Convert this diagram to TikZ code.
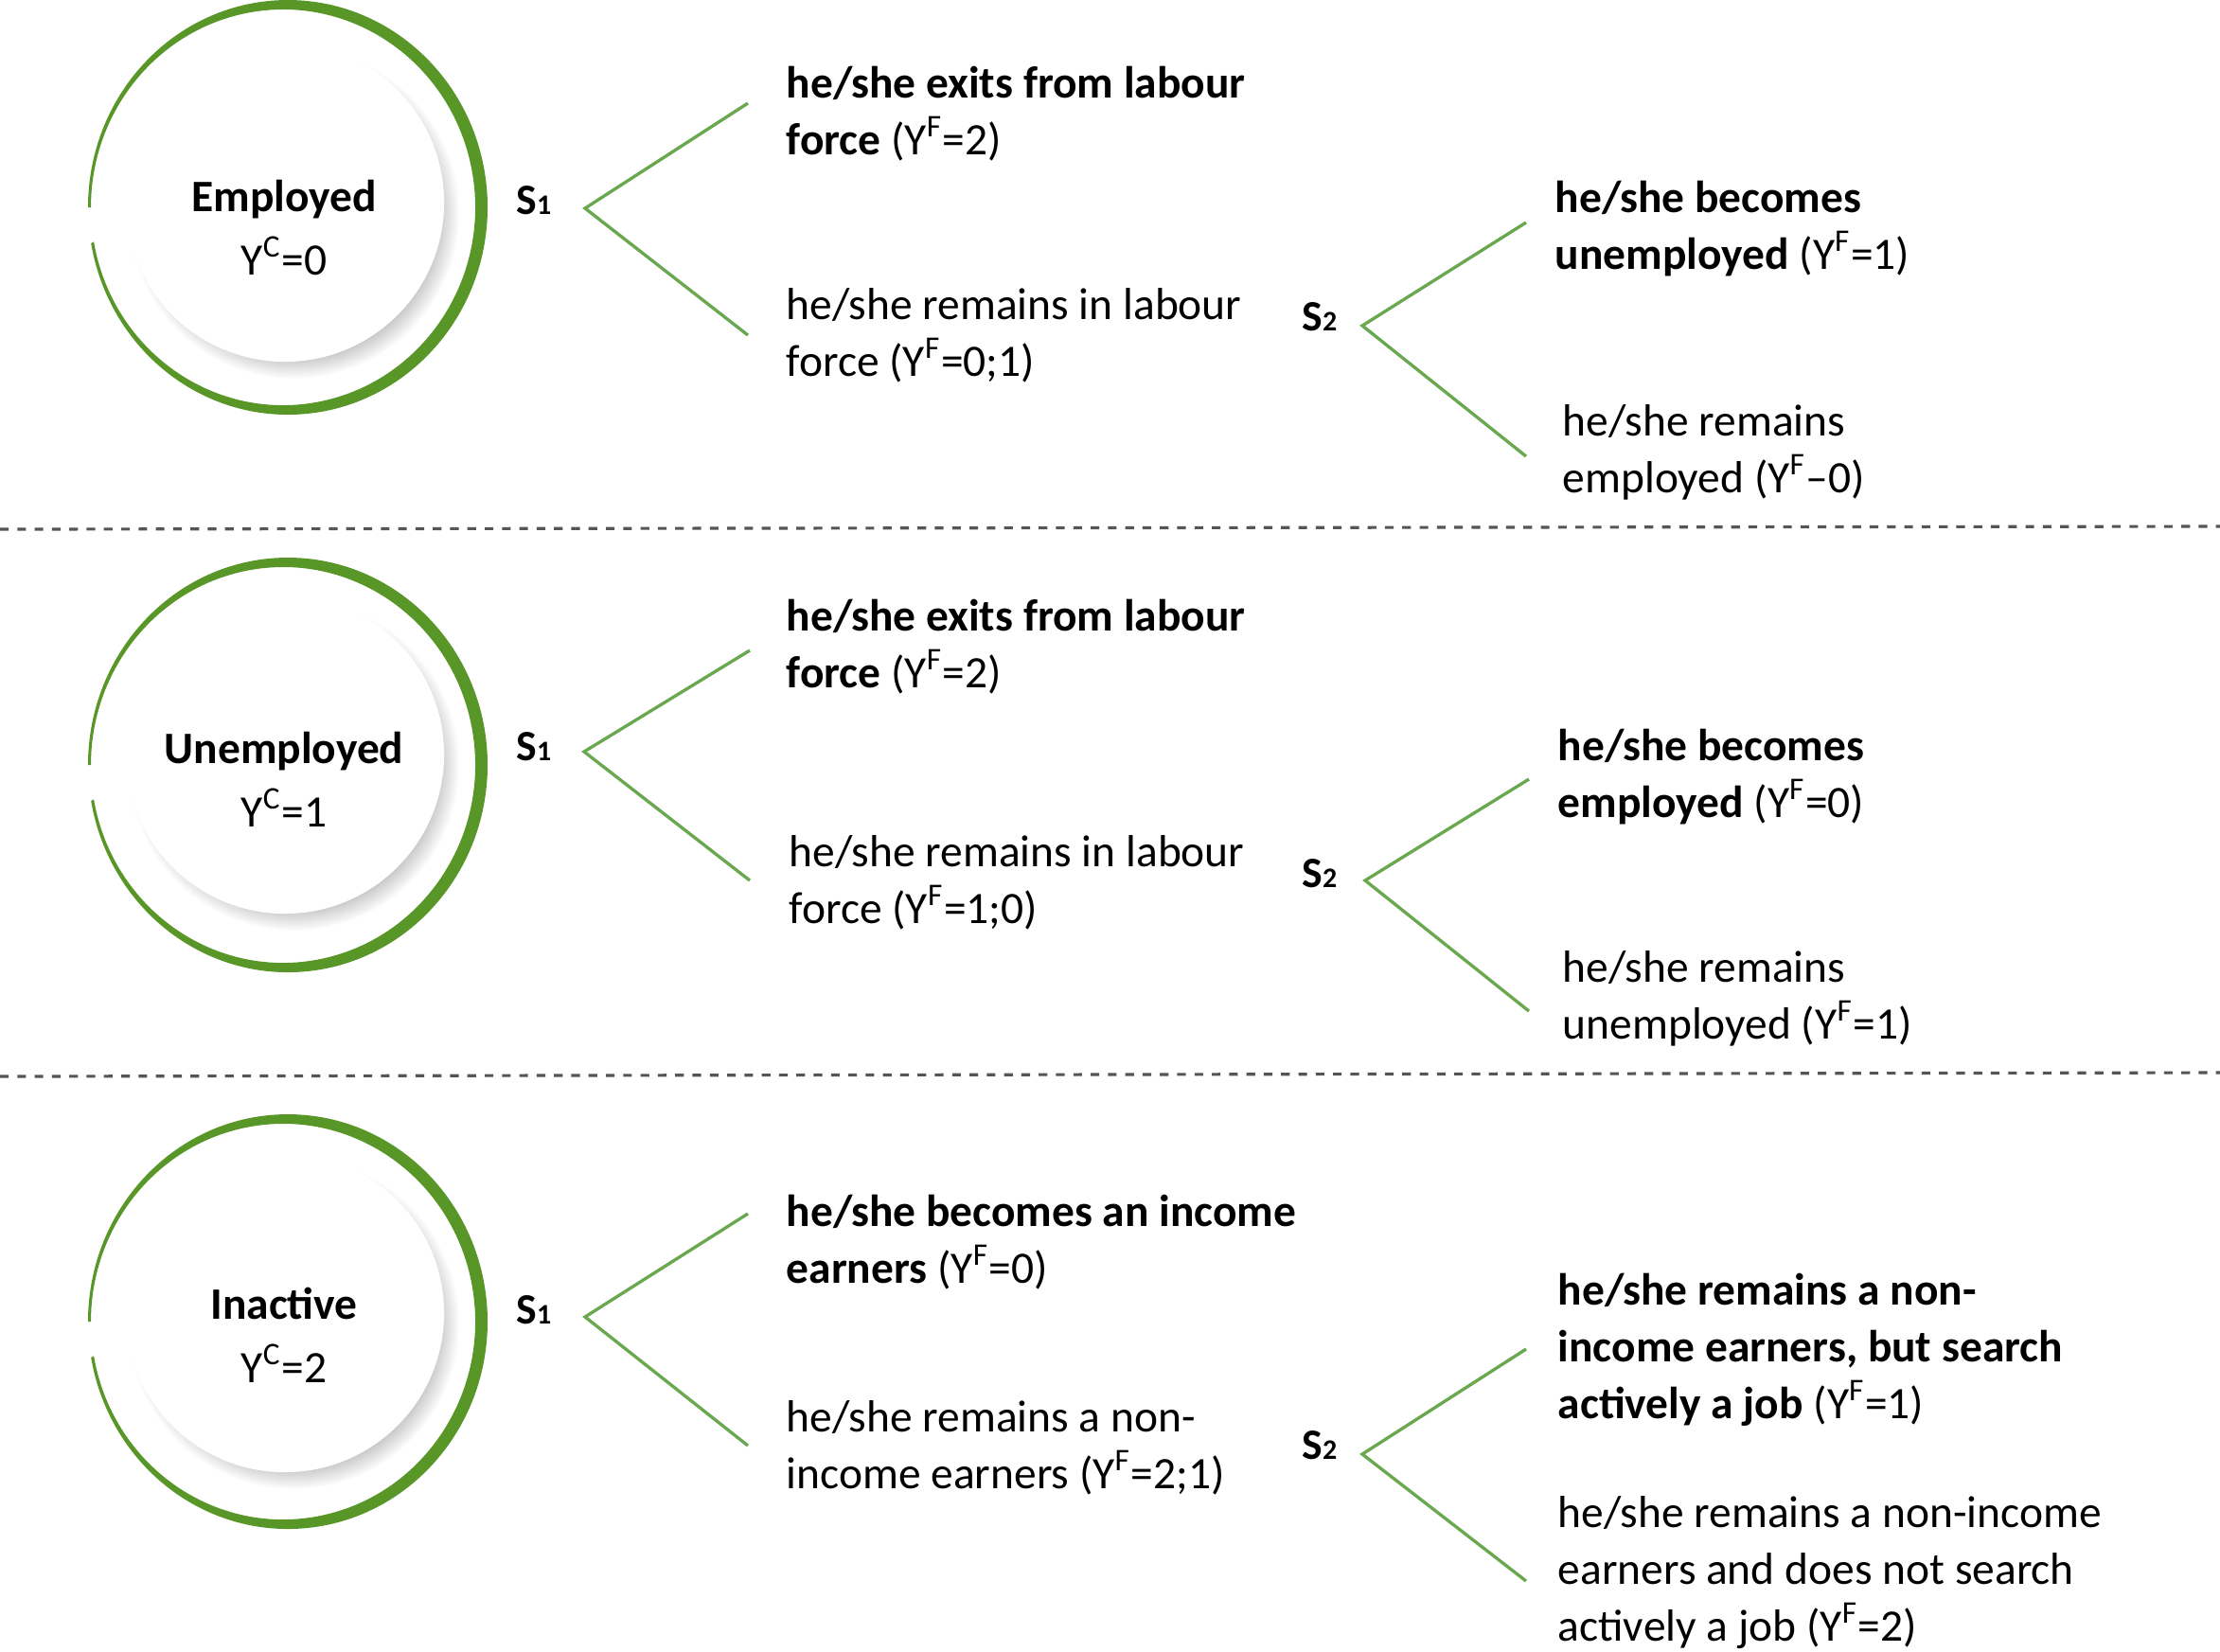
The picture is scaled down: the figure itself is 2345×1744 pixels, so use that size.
\documentclass[tikz,border=0pt]{standalone}
\usepackage{fontspec}
\setmainfont{Carlito}
\usepackage{tikz}
\usetikzlibrary{shadows}
\definecolor{ringgreen}{RGB}{88,150,40}
\definecolor{branchgreen}{RGB}{106,168,79}
\definecolor{sepgray}{RGB}{85,85,85}
\tikzset{
  disc/.style={circle, fill=white, minimum size=3.36cm, inner sep=0pt,
    circular drop shadow={shadow xshift=2.5pt, shadow yshift=-3pt, shadow scale=1.04, opacity=.5}},
  statelabel/.style={font=\fontsize{13.5}{18.8}\selectfont, align=center, inner sep=0pt, anchor=base},
  stage/.style={font=\fontsize{13}{15}\selectfont\bfseries, inner sep=0pt, anchor=base},
  outcome/.style={font=\fontsize{13.5}{17}\selectfont, align=left, inner sep=0pt, anchor=base west},
  branch/.style={draw=branchgreen, line width=0.95pt},
  separator/.style={draw=sepgray, line width=0.9pt, dash pattern=on 2.6pt off 2.6pt},
  greenring/.pic={
    \fill[ringgreen] (-209,0) arc[start angle=180, end angle=530, x radius=211, y radius=219]
      -- (-202.9,36.3) arc[start angle=170, end angle=-180, x radius=203, y radius=209] -- cycle;
  }
}

\begin{document}
\begin{tikzpicture}[x=0.01cm, y=-0.01cm]
    \useasboundingbox (0,0) rectangle (2345,1744);

    % Separators
    \draw[separator] (0,559) -- (2345,556);
    \draw[separator] (0,1137) -- (2345,1133);

    % Employed
    \pic at (302,219) {greenring};
    \node[disc] (emp) at (301,214) {};
    \node[statelabel] (emplab) at (300,290) {\textbf{Employed}\\Y\textsuperscript{C}=0};
    \node[stage] (es1) at (564,226) {S{\fontsize{8.5}{9}\selectfont 1}};
    \node[stage] (es2) at (1394,349) {S{\fontsize{8.5}{9}\selectfont 2}};
    \coordinate (es1v) at (618,220);
    \coordinate (es1a) at (790,109);
    \coordinate (es1b) at (790,354);
    \coordinate (es2v) at (1439,344);
    \coordinate (es2a) at (1612,235);
    \coordinate (es2b) at (1612,482);
    \node[outcome] (eexit) at (830,163) {\textbf{he/she exits from labour}\\\textbf{force} (Y\textsuperscript{F}=2)};
    \node[outcome] (estay) at (830,397) {he/she remains in labour\\force (Y\textsuperscript{F}=0;1)};
    \node[outcome] (eunemp) at (1642,284) {\textbf{he/she becomes}\\\textbf{unemployed} (Y\textsuperscript{F}=1)};
    \node[outcome] (eemp) at (1650,520) {he/she remains\\employed (Y\textsuperscript{F}–0)};
    \draw[branch] (es1a) -- (es1v) -- (es1b);
    \draw[branch] (es2a) -- (es2v) -- (es2b);

    % Unemployed
    \pic at (302,808) {greenring};
    \node[disc] (unemp) at (301,797) {};
    \node[statelabel] (unemplab) at (300,873) {\textbf{Unemployed}\\Y\textsuperscript{C}=1};
    \node[stage] (us1) at (564,803) {S{\fontsize{8.5}{9}\selectfont 1}};
    \node[stage] (us2) at (1394,937) {S{\fontsize{8.5}{9}\selectfont 2}};
    \coordinate (us1v) at (617,794);
    \coordinate (us1a) at (792,687);
    \coordinate (us1b) at (792,930);
    \coordinate (us2v) at (1442,930);
    \coordinate (us2a) at (1615,823);
    \coordinate (us2b) at (1615,1068);
    \node[outcome] (uexit) at (830,726) {\textbf{he/she exits from labour}\\\textbf{force} (Y\textsuperscript{F}=2)};
    \node[outcome] (ustay) at (833,975) {he/she remains in labour\\force (Y\textsuperscript{F}=1;0)};
    \node[outcome] (uemp) at (1645,863) {\textbf{he/she becomes}\\\textbf{employed} (Y\textsuperscript{F}=0)};
    \node[outcome] (uunemp) at (1650,1097) {he/she remains\\unemployed (Y\textsuperscript{F}=1)};
    \draw[branch] (us1a) -- (us1v) -- (us1b);
    \draw[branch] (us2a) -- (us2v) -- (us2b);

    % Inactive
    \pic at (302,1396) {greenring};
    \node[disc] (inact) at (301,1387) {};
    \node[statelabel] (inactlab) at (300,1460) {\textbf{Inactive}\\Y\textsuperscript{C}=2};
    \node[stage] (is1) at (564,1398) {S{\fontsize{8.5}{9}\selectfont 1}};
    \node[stage] (is2) at (1394,1541) {S{\fontsize{8.5}{9}\selectfont 2}};
    \coordinate (is1v) at (618,1391);
    \coordinate (is1a) at (790,1282);
    \coordinate (is1b) at (790,1527);
    \coordinate (is2v) at (1439,1536);
    \coordinate (is2a) at (1612,1425);
    \coordinate (is2b) at (1612,1670);
    \node[outcome] (iincome) at (830,1355) {\textbf{he/she becomes an income}\\\textbf{earners} (Y\textsuperscript{F}=0)};
    \node[outcome] (istay) at (830,1572) {he/she remains a non-\\income earners (Y\textsuperscript{F}=2;1)};
    \node[outcome] (isearch) at (1645,1498) {\textbf{he/she remains a non-}\\\textbf{income earners, but search}\\\textbf{actively a job} (Y\textsuperscript{F}=1)};
    \node[outcome] (inosearch) at (1645,1733) {he/she remains a non-income\\earners and does not search\\actively a job (Y\textsuperscript{F}=2)};
    \draw[branch] (is1a) -- (is1v) -- (is1b);
    \draw[branch] (is2a) -- (is2v) -- (is2b);
\end{tikzpicture}
\end{document}
